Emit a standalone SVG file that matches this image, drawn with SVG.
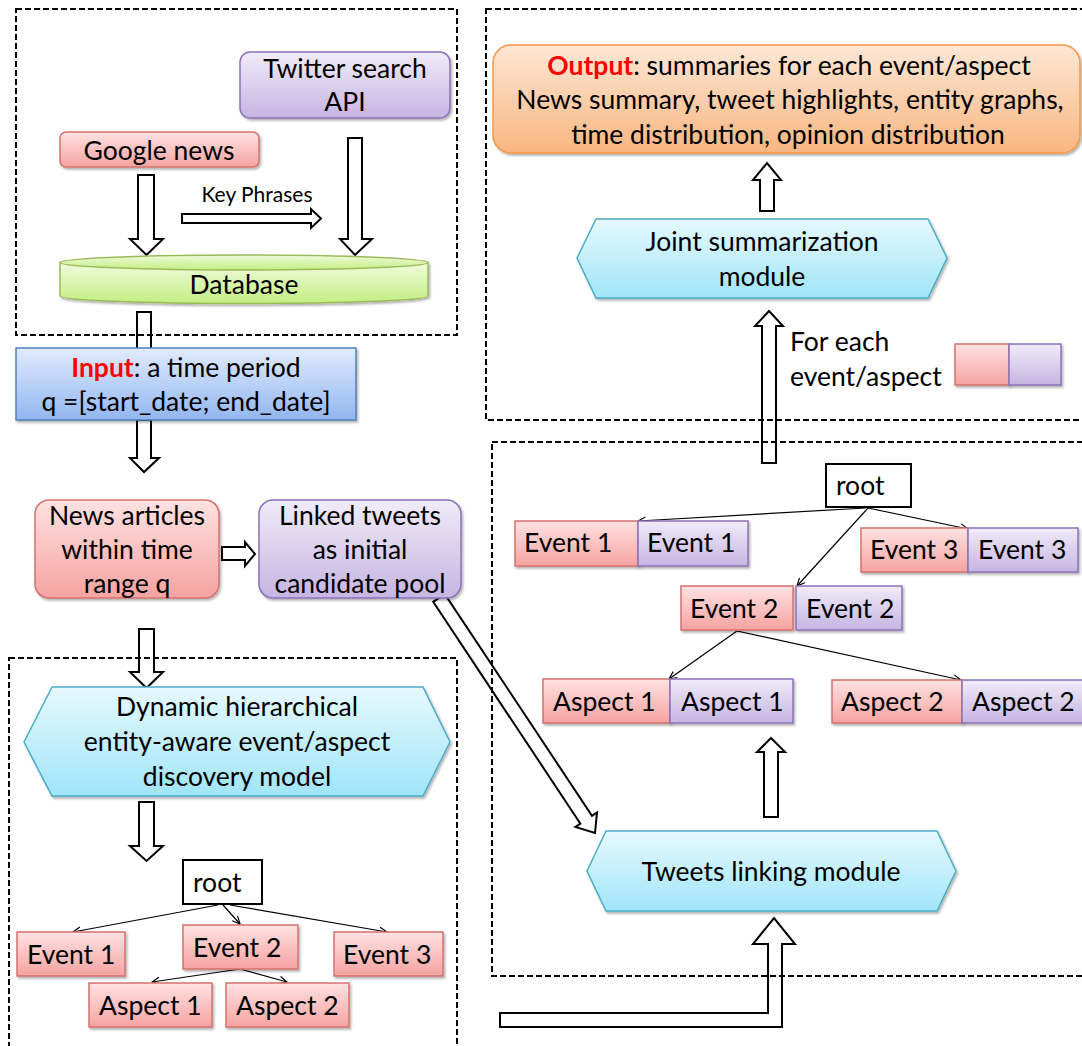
<svg xmlns="http://www.w3.org/2000/svg" width="1082" height="1046" viewBox="0 0 1082 1046">
<defs>
  <linearGradient id="gRed" x1="0" y1="0" x2="0" y2="1"><stop offset="0" stop-color="#ffe2e2"/><stop offset="1" stop-color="#f5a3a1"/></linearGradient>
  <linearGradient id="gPur" x1="0" y1="0" x2="0" y2="1"><stop offset="0" stop-color="#f0ebf8"/><stop offset="1" stop-color="#c6b5e2"/></linearGradient>
  <linearGradient id="gBlue" x1="0" y1="0" x2="0" y2="1"><stop offset="0" stop-color="#e1ebfd"/><stop offset="1" stop-color="#92b6f1"/></linearGradient>
  <linearGradient id="gGreen" x1="0" y1="0" x2="0" y2="1"><stop offset="0" stop-color="#f0fbdc"/><stop offset="1" stop-color="#c3ee82"/></linearGradient>
  <linearGradient id="gOrange" x1="0" y1="0" x2="0" y2="1"><stop offset="0" stop-color="#fde7d6"/><stop offset="1" stop-color="#f9b680"/></linearGradient>
  <linearGradient id="gCyan" x1="0" y1="0" x2="0" y2="1"><stop offset="0" stop-color="#e6f9fe"/><stop offset="1" stop-color="#a0e5f8"/></linearGradient>
  <filter id="sh" x="-10%" y="-10%" width="120%" height="130%"><feDropShadow dx="1.5" dy="2" stdDeviation="1.2" flood-color="#000" flood-opacity="0.3"/></filter>
  <marker id="ah" viewBox="0 0 10 10" refX="9.5" refY="5" markerWidth="9" markerHeight="9" orient="auto" markerUnits="userSpaceOnUse"><path d="M1,1 L9.5,5 L1,9" fill="none" stroke="#000" stroke-width="1.3"/></marker>
</defs>
<style>
  .t{font-family:Lato,"Open Sans","DejaVu Sans",sans-serif;font-size:26.5px;fill:#000}
  .s{font-size:21px}
  .c{text-anchor:middle}
  .hl{fill:#ff0000;font-weight:bold}
  .blk{fill:#fff;stroke:#000;stroke-width:2;stroke-linejoin:miter}
  .dash{fill:none;stroke:#000;stroke-width:2;stroke-dasharray:6 3}
  .edge{stroke:#000;stroke-width:1.2;fill:none;marker-end:url(#ah)}
  .red{fill:url(#gRed);stroke:#d4716d;stroke-width:1.5}
  .pur{fill:url(#gPur);stroke:#8c72b8;stroke-width:1.5}
  .blue{fill:url(#gBlue);stroke:#4f81bd;stroke-width:1.5}
  .green{fill:url(#gGreen);stroke:#9bbb59;stroke-width:1.5}
  .orange{fill:url(#gOrange);stroke:#f79646;stroke-width:1.5}
  .cyan{fill:url(#gCyan);stroke:#4bacc6;stroke-width:1.5}
  .root{fill:#fff;stroke:#000;stroke-width:2}
</style>
<rect width="1082" height="1046" fill="#fff"/>

<g id="connectors">
  <path class="blk" d="M138 175 H154 V239 H163 L146.5 255 L130 239 H138 Z"/>
  <path class="blk" d="M348 138 H362 V239 H372 L355 255 L340 239 H348 Z"/>
  <path class="blk" d="M182 214 H311 V209 L321 218.5 L311 228 V223 H182 Z"/>
  <path class="blk" d="M137 312 H151 V350 H137 Z"/>
  <path class="blk" d="M137 420 H151 V458 H159 L144 472 L130 458 H137 Z"/>
  <path class="blk" d="M222 547 H245 V542 L255 554 L245 566 V560 H222 Z"/>
  <path class="blk" d="M139 629 H154 V672 H163 L146.5 688 L130 672 H139 Z"/>
  <path class="blk" d="M139 802 H154 V846 H163 L146.5 861 L130 846 H139 Z"/>
  <path class="blk" d="M760 211 V180 H753 L767 163 L781 180 H774 V211 Z"/>
  <path class="blk" d="M762 463 V326 H755 L769 311 L783 326 H776 V463 Z"/>
  <path class="blk" d="M764 817 V752 H757 L771 738 L785 752 H778 V817 Z"/>
  <path class="blk" d="M500 1013 H768 V944 H753 L774 918 L795 944 H782 V1027 H500 Z"/>
  <path class="blk" d="M444.8 594.1 L592 815.8 L597 812.5 L595 833 L575.4 826.9 L580.4 823.6 L433.2 601.9 Z"/>
  <line class="edge" x1="866" y1="508" x2="638" y2="521"/>
  <line class="edge" x1="868" y1="508" x2="797" y2="586"/>
  <line class="edge" x1="868" y1="508" x2="968" y2="529"/>
  <line class="edge" x1="737" y1="631" x2="669" y2="679"/>
  <line class="edge" x1="737" y1="631" x2="961" y2="680"/>
  <line class="edge" x1="218" y1="905" x2="73" y2="932"/>
  <line class="edge" x1="223" y1="905" x2="240" y2="924"/>
  <line class="edge" x1="230" y1="905" x2="387" y2="932"/>
  <line class="edge" x1="240" y1="969" x2="152" y2="982"/>
  <line class="edge" x1="240" y1="969" x2="287" y2="982"/>
</g>

<g id="groups">
  <rect class="dash" x="16" y="9" width="441" height="326"/>
  <rect class="dash" x="486" y="9" width="640" height="411"/>
  <rect class="dash" x="492" y="442" width="640" height="534"/>
  <rect class="dash" x="9" y="658" width="448" height="440"/>
</g>

<g id="twitter"><rect class="pur" filter="url(#sh)" x="240" y="52" width="210" height="66" rx="10"/>
  <text class="t c" x="345" y="78">Twitter search</text><text class="t c" x="345" y="111">API</text></g>
<g id="google"><rect class="red" filter="url(#sh)" x="60" y="132" width="199" height="35" rx="6"/>
  <text class="t c" x="159" y="160">Google news</text></g>
<g id="keyphrases"><text class="t s c" x="257" y="202">Key Phrases</text></g>
<g id="database">
  <path class="green" filter="url(#sh)" d="M60 262.5 V296 A184 7.5 0 0 0 428 296 V262.5 Z"/>
  <ellipse class="green" cx="244" cy="262.5" rx="184" ry="7.5"/>
  <text class="t c" x="244" y="294">Database</text></g>
<g id="input"><rect class="blue" filter="url(#sh)" x="16" y="348" width="340" height="72"/>
  <text class="t c" x="186" y="377"><tspan class="hl">Input</tspan>: a time period</text>
  <text class="t c" x="186" y="411">q =[start_date; end_date]</text></g>
<g id="news"><rect class="red" filter="url(#sh)" x="35" y="500" width="184" height="98" rx="14"/>
  <text class="t c" x="127" y="525">News articles</text><text class="t c" x="127" y="559">within time</text><text class="t c" x="127" y="593">range q</text></g>
<g id="linked"><rect class="pur" filter="url(#sh)" x="259" y="500" width="202" height="98" rx="14"/>
  <text class="t c" x="360" y="525">Linked tweets</text><text class="t c" x="360" y="559">as initial</text><text class="t c" x="360" y="593">candidate pool</text></g>
<g id="output"><rect class="orange" filter="url(#sh)" x="493" y="45" width="587" height="108" rx="18"/>
  <text class="t c" x="789" y="75"><tspan class="hl">Output</tspan>: summaries for each event/aspect</text>
  <text class="t c" x="790" y="109">News summary, tweet highlights, entity graphs,</text>
  <text class="t c" x="788" y="144">time distribution, opinion distribution</text></g>
<g id="joint"><polygon class="cyan" filter="url(#sh)" points="577,258 596,219 928,219 947,258 928,298 596,298"/>
  <text class="t c" x="762" y="251">Joint summarization</text><text class="t c" x="762" y="286">module</text></g>
<g id="foreach"><text class="t" x="790" y="351">For each</text><text class="t" x="790" y="386">event/aspect</text>
  <rect class="red" filter="url(#sh)" x="955" y="344" width="54" height="41"/>
  <rect class="pur" filter="url(#sh)" x="1009" y="344" width="52" height="41"/></g>

<g id="rtree-root"><rect class="root" x="826" y="464" width="85" height="43"/><text class="t" x="836" y="495">root</text></g>
<g id="rtree-e1"><rect class="red" filter="url(#sh)" x="515" y="521" width="123" height="45"/><rect class="pur" filter="url(#sh)" x="638" y="521" width="110" height="45"/>
  <text class="t" x="524" y="552">Event 1</text><text class="t" x="647" y="552">Event 1</text></g>
<g id="rtree-e3"><rect class="red" filter="url(#sh)" x="861" y="528" width="107" height="44"/><rect class="pur" filter="url(#sh)" x="968" y="528" width="110" height="44"/>
  <text class="t" x="870" y="559">Event 3</text><text class="t" x="978" y="559">Event 3</text></g>
<g id="rtree-e2"><rect class="red" filter="url(#sh)" x="681" y="586" width="112" height="44"/><rect class="pur" filter="url(#sh)" x="796" y="586" width="106" height="44"/>
  <text class="t" x="690" y="618">Event 2</text><text class="t" x="806" y="618">Event 2</text></g>
<g id="rtree-a1"><rect class="red" filter="url(#sh)" x="543" y="679" width="127" height="44"/><rect class="pur" filter="url(#sh)" x="670" y="679" width="123" height="44"/>
  <text class="t" x="553" y="711">Aspect 1</text><text class="t" x="681" y="711">Aspect 1</text></g>
<g id="rtree-a2"><rect class="red" filter="url(#sh)" x="832" y="680" width="130" height="43"/><rect class="pur" filter="url(#sh)" x="962" y="680" width="122" height="43"/>
  <text class="t" x="841" y="711">Aspect 2</text><text class="t" x="972" y="711">Aspect 2</text></g>

<g id="dynamic"><polygon class="cyan" filter="url(#sh)" points="24,742 52,687 423,687 450,742 423,796 52,796"/>
  <text class="t c" x="237" y="716">Dynamic hierarchical</text><text class="t c" x="237" y="751">entity-aware event/aspect</text><text class="t c" x="237" y="786">discovery model</text></g>
<g id="tweetslinking"><polygon class="cyan" filter="url(#sh)" points="587,871 606,831 937,831 956,871 937,911 606,911"/>
  <text class="t c" x="771" y="881">Tweets linking module</text></g>

<g id="ltree-root"><rect class="root" x="183" y="860" width="79" height="44"/><text class="t" x="193" y="892">root</text></g>
<g id="ltree-e1"><rect class="red" filter="url(#sh)" x="17" y="932" width="108" height="44"/><text class="t" x="27" y="964">Event 1</text></g>
<g id="ltree-e2"><rect class="red" filter="url(#sh)" x="183" y="925" width="115" height="44"/><text class="t" x="193" y="957">Event 2</text></g>
<g id="ltree-e3"><rect class="red" filter="url(#sh)" x="334" y="932" width="109" height="44"/><text class="t" x="343" y="964">Event 3</text></g>
<g id="ltree-a1"><rect class="red" filter="url(#sh)" x="89" y="983" width="123" height="44"/><text class="t" x="99" y="1015">Aspect 1</text></g>
<g id="ltree-a2"><rect class="red" filter="url(#sh)" x="226" y="983" width="123" height="44"/><text class="t" x="236" y="1015">Aspect 2</text></g>
</svg>
